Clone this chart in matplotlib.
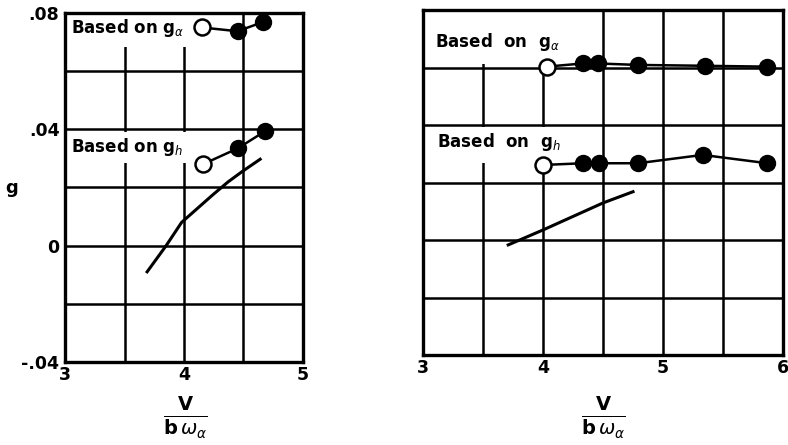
import numpy as np
import matplotlib.pyplot as plt
from matplotlib.patches import Rectangle

plt.rcParams['font.family'] = ['DejaVu Sans']
plt.rcParams['mathtext.fontset'] = 'dejavusans'

# left panel
left_ga_x = [4.15, 4.45, 4.66]
left_ga_g = [0.0750, 0.0737, 0.0768]
left_gh_x = [4.16, 4.45, 4.68]
left_gh_g = [0.0280, 0.0334, 0.0393]
left_curve_x = [3.69, 3.85, 3.98, 4.24, 4.37, 4.49, 4.64]
left_curve_g = [-0.0090, 0.0, 0.0080, 0.0174, 0.0219, 0.0255, 0.0297]

# right panel
right_ga_x = [4.03, 4.33, 4.46, 4.79, 5.35, 5.87]
right_ga_g = [0.0603, 0.0614, 0.0614, 0.0609, 0.0606, 0.0603]
right_gh_x = [4.00, 4.33, 4.47, 4.79, 5.33, 5.87]
right_gh_g = [0.0261, 0.0267, 0.0267, 0.0267, 0.0296, 0.0267]
right_curve_x = [3.71, 4.00, 4.50, 4.75]
right_curve_g = [-0.0017, 0.0035, 0.0129, 0.0168]

fig = plt.figure(figsize=(7.88, 4.45), dpi=100)
ax1 = fig.add_axes([0.0825, 0.1865, 0.302, 0.7845])
ax2 = fig.add_axes([0.5368, 0.2022, 0.4569, 0.7753])

def setup(ax, xmax):
    ax.set_xlim(3, xmax)
    ax.set_ylim(-0.04, 0.08)
    ax.set_xticks(np.arange(3, xmax + 0.1, 1))
    ax.set_xticks(np.arange(3.5, xmax, 1), minor=True)
    ax.set_yticks([-0.04, 0, 0.04, 0.08])
    ax.set_yticks([-0.02, 0.02, 0.06], minor=True)
    ax.set_axisbelow(True)
    ax.grid(which='both', color='black', linewidth=1.8)
    for s in ax.spines.values():
        s.set_linewidth(2.4)
    ax.tick_params(which='both', length=0)
    ax.tick_params(axis='x', pad=3, labelsize=12.5)
    ax.tick_params(axis='y', pad=4, labelsize=12.5)

def series(ax, x, g):
    ax.plot(x, g, color='black', lw=1.8, zorder=3)
    ax.plot(x[:1], g[:1], 'o', ms=11.5, mfc='white', mec='black', mew=1.8, zorder=4)
    ax.plot(x[1:], g[1:], 'o', ms=11.5, mfc='black', mec='black', zorder=4)

def blank(ax, x0, x1, y0, y1):
    ax.add_patch(Rectangle((x0, y0), x1 - x0, y1 - y0, facecolor='white',
                           edgecolor='none', zorder=1))

setup(ax1, 5)
ax1.set_yticklabels(['-.04', '0', '.04', '.08'], fontweight='bold')
ax1.set_xticklabels(['3', '4', '5'], fontweight='bold')

blank(ax1, 3.01, 4.12, 0.0683, 0.0793)
blank(ax1, 3.01, 4.12, 0.0283, 0.0392)
ax1.text(3.05, 0.0748, r'Based on g$_{\alpha}$', fontsize=12, fontweight='bold', va='center', zorder=2)
ax1.text(3.05, 0.0340, r'Based on g$_{h}$', fontsize=12, fontweight='bold', va='center', zorder=2)
series(ax1, left_ga_x, left_ga_g)
series(ax1, left_gh_x, left_gh_g)
ax1.plot(left_curve_x, left_curve_g, color='black', lw=2.2, zorder=3)

setup(ax2, 6)
ax2.set_yticklabels([])
ax2.set_xticklabels(['3', '4', '5', '6'], fontweight='bold')
blank(ax2, 3.01, 4.04, 0.0612, 0.0795)
blank(ax2, 3.01, 4.04, 0.0268, 0.0392)
ax2.text(3.10, 0.0690, r'Based  on  g$_{\alpha}$', fontsize=12, fontweight='bold', va='center', zorder=2)
ax2.text(3.12, 0.0340, r'Based  on  g$_{h}$', fontsize=12, fontweight='bold', va='center', zorder=2)
series(ax2, right_ga_x, right_ga_g)
series(ax2, right_gh_x, right_gh_g)
ax2.plot(right_curve_x, right_curve_g, color='black', lw=2.2, zorder=3)

label = r'$\frac{\mathbf{V}}{\mathbf{b}\,\omega_\alpha}$'
fig.text(12 / 788, 1 - 188 / 445, 'g', fontsize=13, fontweight='bold', ha='center', va='center')
fig.text(185 / 788, 1 - 418 / 445, label, fontsize=20, ha='center', va='center')
fig.text(603 / 788, 1 - 418 / 445, label, fontsize=20, ha='center', va='center')

fig.savefig('out.png', dpi=100)
